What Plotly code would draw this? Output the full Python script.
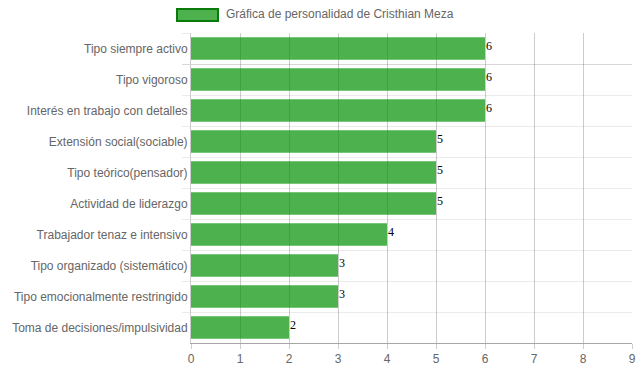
import plotly.graph_objects as go

categories = [
    "Tipo siempre activo",
    "Tipo vigoroso",
    "Interés en trabajo con detalles",
    "Extensión social(sociable)",
    "Tipo teórico(pensador)",
    "Actividad de liderazgo",
    "Trabajador tenaz e intensivo",
    "Tipo organizado (sistemático)",
    "Tipo emocionalmente restringido",
    "Toma de decisiones/impulsividad",
]
values = [6, 6, 6, 5, 5, 5, 4, 3, 3, 2]
series_name = "Gráfica de personalidad de Cristhian Meza"
x_ticks = [0, 1, 2, 3, 4, 5, 6, 7, 8, 9]

bar_color = "rgba(1,146,1,0.7)"

fig = go.Figure()
fig.add_trace(go.Bar(
    x=values, y=categories, orientation="h",
    marker=dict(color=bar_color, line=dict(width=0)),
    width=0.72, showlegend=False, hoverinfo="skip",
))

for c, v in zip(categories, values):
    fig.add_annotation(x=v, y=c, text=str(v), showarrow=False,
                       xanchor="left", yanchor="middle", xshift=-1, yshift=3,
                       font=dict(family="Liberation Serif, Times New Roman, serif", size=12, color="#000"))

# legend-like box (plot area spans 441 x 310 px)
fig.add_shape(type="rect", xref="paper", yref="paper",
              x0=(177-191)/441, x1=(218-191)/441, y0=(343-21)/310, y1=(343-9)/310,
              fillcolor=bar_color, line=dict(color="#0a7a0a", width=2))
fig.add_annotation(xref="paper", yref="paper", x=(224-191)/441, y=(343-14)/310,
                   text=series_name, showarrow=False, xanchor="left", yanchor="middle",
                   font=dict(family="Liberation Sans, Arial, sans-serif", size=12, color="#666"))

fig.update_layout(
    width=639, height=372,
    margin=dict(l=191, r=7, t=33, b=29, autoexpand=False),
    paper_bgcolor="white", plot_bgcolor="white",
    font=dict(family="Liberation Sans, Arial, sans-serif", size=12, color="#666"),
)
fig.update_xaxes(range=[0, 9], tickvals=x_ticks, showgrid=True, automargin=False,
                 gridcolor="rgba(0,0,0,0.2)", gridwidth=1,
                 zeroline=False, showline=True, linecolor="rgba(0,0,0,0.35)",
                 ticks="outside", ticklen=5, tickcolor="rgba(0,0,0,0.2)",
                 tickfont=dict(size=12, color="#666"))
fig.update_yaxes(type="category", autorange="reversed", tickson="boundaries",
                 showgrid=True, gridcolor="rgba(0,0,0,0.08)", gridwidth=1, automargin=False,
                 zeroline=False, showline=True, linecolor="rgba(0,0,0,0.2)",
                 ticks="outside", ticklen=8, tickcolor="rgba(0,0,0,0.08)",
                 tickfont=dict(size=12, color="#666"))

fig.write_html("out.html", config={"displayModeBar": False},
               post_script="document.body.style.margin='0';document.body.style.overflow='hidden';")
